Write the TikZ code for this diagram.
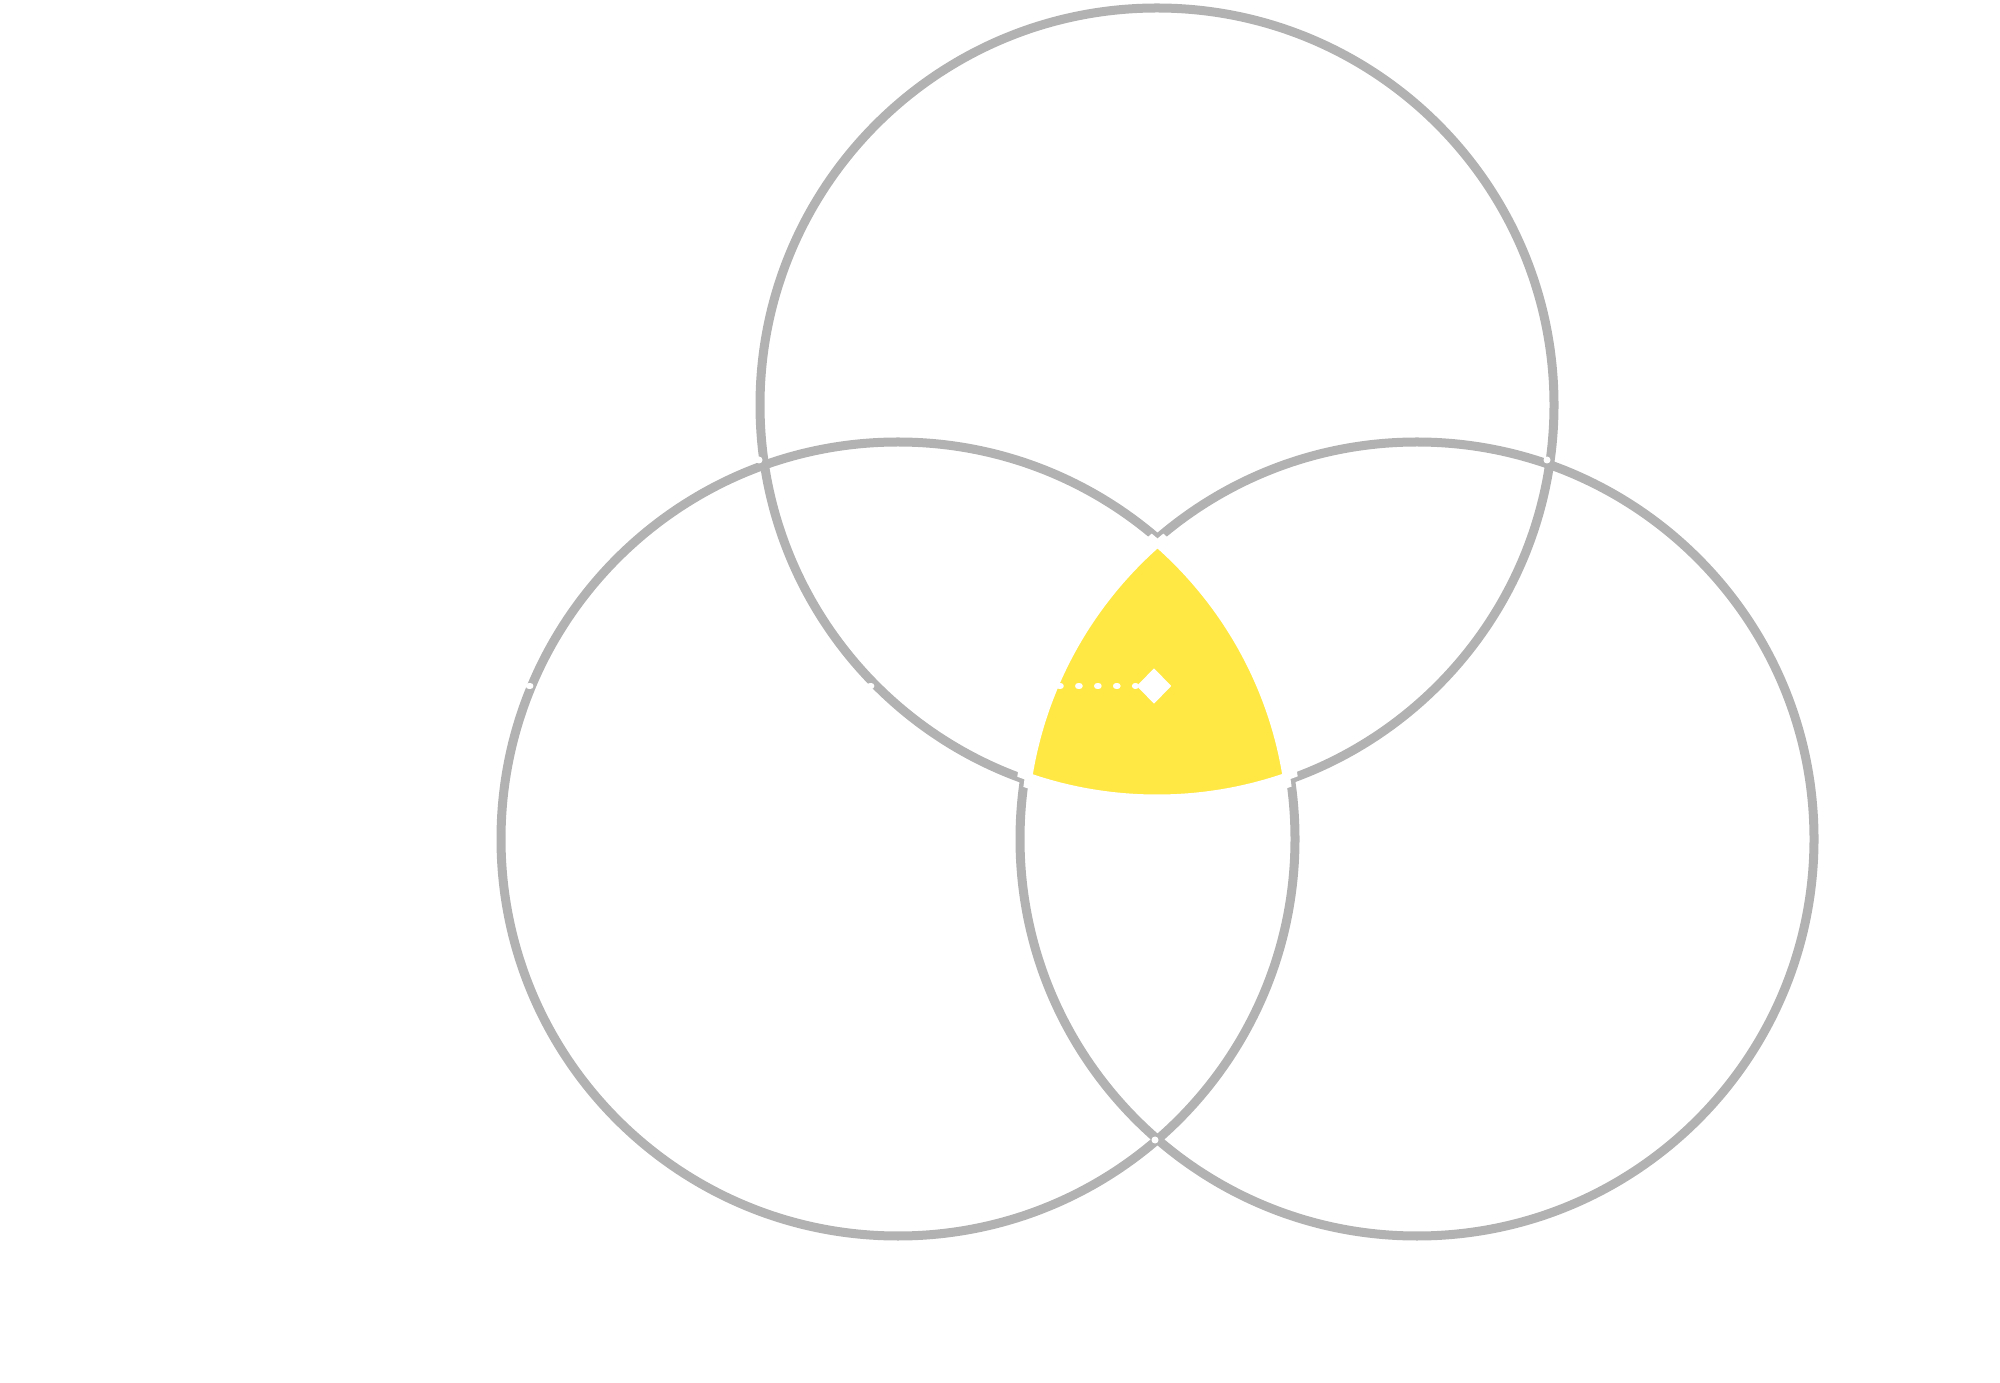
\documentclass[tikz,border=0pt]{standalone}
\usetikzlibrary{shapes.geometric}
\definecolor{ringgray}{HTML}{B2B2B2}
\definecolor{venyellow}{HTML}{FFE744}
\begin{document}
\begin{tikzpicture}[x=0.01cm,y=-0.01cm,
  ring/.style={draw=ringgray,line width=0.09cm},
  whiteedge/.style={draw=white,line width=0.15cm},
  dotline/.style={draw=white,line width=0.065cm,line cap=round,dash pattern=on 0.012cm off 0.1773cm},
  notch/.style={circle,fill=white,inner sep=0pt,minimum size=0.07cm}]
\useasboundingbox (0,0) rectangle (2000,1383);
\coordinate (ct) at (1157,405);
\coordinate (cl) at (898,839);
\coordinate (cr) at (1417,839);
\def\R{397}
% circles
\draw[ring] (ct) circle (\R);
\draw[ring] (cl) circle (\R);
\draw[ring] (cr) circle (\R);
% yellow triple intersection
\begin{scope}
  \clip (ct) circle (\R);
  \clip (cl) circle (\R);
  \fill[venyellow] (cr) circle (\R);
\end{scope}
% white border of the central region
\begin{scope}
  \clip (cl) circle (\R);
  \clip (cr) circle (\R);
  \draw[whiteedge] (ct) circle (\R);
\end{scope}
\begin{scope}
  \clip (ct) circle (\R);
  \clip (cr) circle (\R);
  \draw[whiteedge] (cl) circle (\R);
\end{scope}
\begin{scope}
  \clip (ct) circle (\R);
  \clip (cl) circle (\R);
  \draw[whiteedge] (cr) circle (\R);
\end{scope}
% dotted pointer and diamond
\coordinate (start) at (529,686);
\node[diamond,fill=white,inner sep=0pt,minimum width=0.35cm,minimum height=0.36cm] (dia) at (1154,686) {};
\draw[dotline] (start) -- (dia.west);
% small notches at crossings
\node[notch] (n1) at (1155,1140) {};
\node[notch] (n2) at (1547,460) {};
\node[notch] (n3) at (759,460) {};
\end{tikzpicture}
\end{document}
